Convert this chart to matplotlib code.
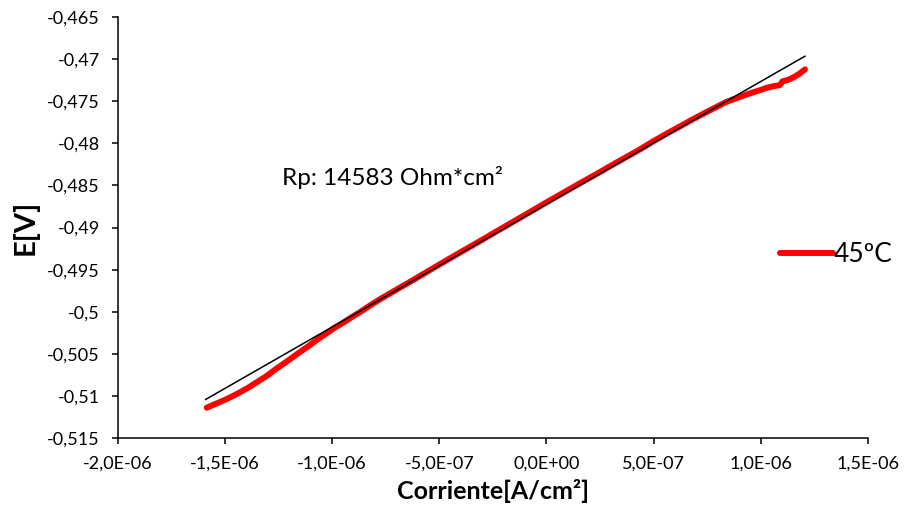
import matplotlib
matplotlib.use("Agg")
import matplotlib.pyplot as plt
import numpy as np

plt.rcParams['font.family'] = ['Lato', 'DejaVu Sans']

# Polarization curve at 45 ºC: current density (A/cm2) vs potential (V)
current = [-1.585e-6, -1.545e-6, -1.505e-6, -1.466e-6, -1.426e-6, -1.387e-6, -1.347e-6,
           -1.307e-6, -1.267e-6, -1.228e-6, -1.188e-6, -1.148e-6, -1.109e-6, -1.069e-6,
           -1.029e-6, -0.990e-6, -0.950e-6, -0.910e-6, -0.871e-6, -0.820e-6, -0.775e-6,
           -0.699e-6, -0.620e-6, -0.544e-6, -0.465e-6, -0.389e-6, -0.310e-6, -0.233e-6,
           -0.155e-6, -0.077e-6, 0.000e-6, 0.078e-6, 0.155e-6, 0.234e-6, 0.311e-6,
           0.374e-6, 0.440e-6, 0.498e-6, 0.560e-6, 0.625e-6, 0.685e-6, 0.760e-6,
           0.840e-6, 0.900e-6, 0.949e-6, 1.000e-6, 1.027e-6, 1.060e-6, 1.089e-6,
           1.102e-6, 1.128e-6, 1.155e-6, 1.182e-6, 1.206e-6]
potential = [-0.51140, -0.51095, -0.51052, -0.51005, -0.50951, -0.50895, -0.50830,
             -0.50765, -0.50689, -0.50620, -0.50548, -0.50475, -0.50406, -0.50330,
             -0.50262, -0.50192, -0.50132, -0.50066, -0.50005, -0.49920, -0.49848,
             -0.49736, -0.49620, -0.49505, -0.49387, -0.49275, -0.49160, -0.49045,
             -0.48930, -0.48815, -0.48700, -0.48587, -0.48475, -0.48363, -0.48250,
             -0.48160, -0.48065, -0.47975, -0.47885, -0.47795, -0.47710, -0.47610,
             -0.47506, -0.47450, -0.47406, -0.47365, -0.47340, -0.47320, -0.47308,
             -0.47262, -0.47245, -0.47212, -0.47169, -0.47121]

# Linear fit (polarization resistance)
rp = 14583.0
fit_intercept = -0.48723
fit_range = [-1.59e-6, 1.206e-6]

xticks = [-2.0e-6, -1.5e-6, -1.0e-6, -5.0e-7, 0.0, 5.0e-7, 1.0e-6, 1.5e-6]
xtick_labels = ['-2,0E-06', '-1,5E-06', '-1,0E-06', '-5,0E-07', '0,0E+00',
                '5,0E-07', '1,0E-06', '1,5E-06']
yticks = [-0.515, -0.51, -0.505, -0.5, -0.495, -0.49, -0.485, -0.48,
          -0.475, -0.47, -0.465]
ytick_labels = ['-0,515', '-0,51', '-0,505', '-0,5', '-0,495', '-0,49', '-0,485',
                '-0,48', '-0,475', '-0,47', '-0,465']

fig = plt.figure(figsize=(9.06, 5.19), dpi=100)
ax = fig.add_axes([0.130, 0.156, 0.828, 0.811])

ax.plot(current, potential, color='#ff0000', lw=4.3, solid_capstyle='round',
        solid_joinstyle='round', label='45ºC', zorder=2)
fx = np.array(fit_range)
ax.plot(fx, fit_intercept + rp * fx, color='black', lw=1.1, zorder=3)

ax.set_xlim(xticks[0], xticks[-1])
ax.set_ylim(yticks[0], yticks[-1])
ax.set_xticks(xticks, xtick_labels)
ax.set_yticks(yticks, ytick_labels)

for s in ['top', 'right']:
    ax.spines[s].set_visible(False)
for s in ['left', 'bottom']:
    ax.spines[s].set_linewidth(1.1)
    ax.spines[s].set_color('black')
ax.tick_params(direction='out', length=4, width=1.1, labelsize=13, colors='black')
ax.tick_params(axis='y', pad=9)
ax.tick_params(axis='x', pad=9)

ax.set_xlabel('Corriente[A/cm²]', fontsize=18, fontweight='bold', labelpad=5)
ax.set_ylabel('E[V]', fontsize=21, fontweight='bold', labelpad=6)

ax.text(-1.235e-6, -0.4840, f'Rp: {rp:.0f} Ohm*cm²', fontsize=17.5, va='center', ha='left')

ax.legend(loc='center left', bbox_to_anchor=(0.861, 0.509), bbox_transform=fig.transFigure,
          frameon=False, fontsize=19, handlelength=2.0, handletextpad=0.05,
          borderpad=0, borderaxespad=0)

fig.savefig('out.png', dpi=100)
